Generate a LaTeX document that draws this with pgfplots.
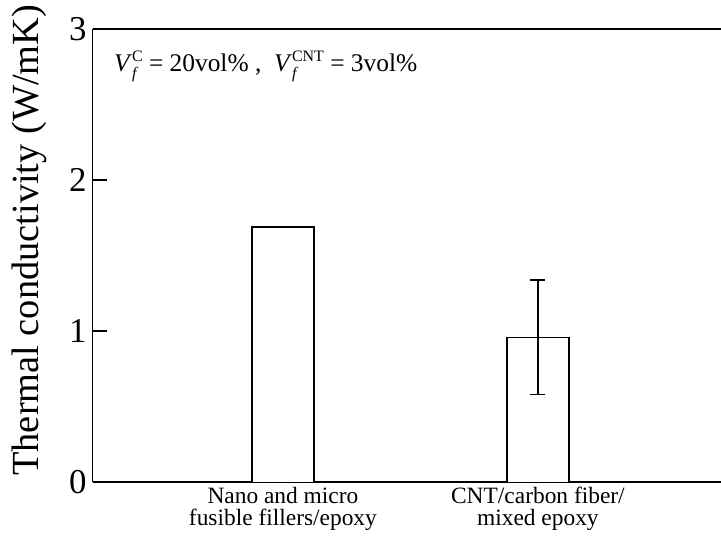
\documentclass[border=0pt]{standalone}
\usepackage{fontspec}
\setmainfont{Liberation Serif}
\usepackage{pgfplots}
\pgfplotsset{compat=1.18}
\usetikzlibrary{calc}

\begin{document}
\begin{tikzpicture}
\begin{axis}[
  scale only axis,
  width=628.3bp, height=453.3bp,
  xmin=0.254, xmax=2.718,
  ymin=0, ymax=3,
  axis x line=box, axis y line=left,
  axis line style={-, line width=1.6bp},
  xtick={1,2},
  xticklabels={Nano and micro\\fusible fillers/epoxy, CNT/carbon fiber/\\mixed epoxy},
  x tick label style={align=center, font=\fontsize{23.5}{22}\selectfont, inner sep=0pt, yshift=-5bp},
  x tick style={draw=none},
  ytick={0,1,2,3},
  tick align=inside,
  major tick length=14bp,
  y tick style={line width=1.4bp, black},
  y tick label style={font=\fontsize{35}{35}\selectfont, inner sep=0pt, xshift=-6bp},
  /pgf/number format/assume math mode=true,
  ylabel={Thermal conductivity (W/mK)},
  every axis y label/.style={at={(axis description cs:-0.1003,0.534)}, rotate=90, anchor=center,
    font=\fontsize{38.5}{38.5}\selectfont},
  clip=false,
]
\addplot[ybar, bar width=62bp, draw=black, fill=white, line width=1.4bp]
  coordinates {(1,1.69) (2,0.96)};
\addplot[draw=none, mark=none, line width=1.4bp,
  error bars/.cd, y dir=both, y explicit,
  error bar style={line width=1.4bp, black},
  error mark options={rotate=90, mark size=7.5bp, line width=1.4bp, black}]
  coordinates {(2,0.96) +- (0,0.38)};
\node[anchor=base west, inner sep=0pt, font=\fontsize{25.5}{25.5}\selectfont] at (axis cs:0.337,2.72)
  {\textit{V}\rlap{\raisebox{-7bp}{\fontsize{16}{16}\selectfont\itshape f}}\raisebox{10bp}{\fontsize{16}{16}\selectfont C} = 20vol\% ,\ \ \textit{V}\rlap{\raisebox{-7bp}{\fontsize{16}{16}\selectfont\itshape f}}\raisebox{10bp}{\fontsize{16}{16}\selectfont CNT} = 3vol\%};
\coordinate (sw) at (rel axis cs:0,0);
\coordinate (ne) at (rel axis cs:1,1);
\end{axis}
\pgfresetboundingbox
\path[use as bounding box] ($(sw)+(-92.7bp,-57.7bp)$) rectangle ($(ne)+(0,29bp)$);
\end{tikzpicture}
\end{document}
